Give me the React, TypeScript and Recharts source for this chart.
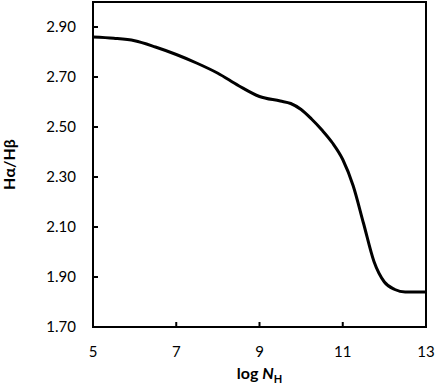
import React from "react"
import { LineChart, Line, XAxis, YAxis, ReferenceArea, Label } from "recharts"

// log N_H values along the x axis
const logNH = [5, 5.5, 6, 6.5, 7, 7.5, 8, 8.5, 9, 9.5, 9.75, 10, 10.25, 10.5, 10.75, 11, 11.25, 11.5, 11.75, 12, 12.25, 12.5, 13]
// Balmer decrement Ha/Hb
const ratio = [2.86, 2.855, 2.845, 2.82, 2.79, 2.755, 2.715, 2.665, 2.622, 2.604, 2.594, 2.57, 2.532, 2.488, 2.437, 2.37, 2.265, 2.114, 1.962, 1.88, 1.85, 1.84, 1.84]

const xTicks = [5, 7, 9, 11, 13]
const yTicks = [1.7, 1.9, 2.1, 2.3, 2.5, 2.7, 2.9]

const data = logNH.map((x, i) => ({ x, y: ratio[i] }))

const FONT = "Lato, 'Open Sans', sans-serif"

const XTitle = (props: any) => {
  const vb = props.viewBox || {}
  const cx = vb.x + vb.width / 2
  return (
    <text x={cx} y={vb.y + 52} textAnchor="middle" fontFamily={FONT} fontWeight="bold" fontSize={16} fill="#000">
      log <tspan fontStyle="italic">N</tspan>
      <tspan fontSize={11} dy={4}>H</tspan>
    </text>
  )
}

const YTitle = (props: any) => {
  const vb = props.viewBox || {}
  const cy = vb.y + vb.height / 2
  const x = 15
  return (
    <text
      x={x}
      y={cy}
      transform={`rotate(-90 ${x} ${cy})`}
      textAnchor="middle"
      fontFamily={FONT}
      fontWeight="bold"
      fontSize={16}
      fill="#000"
    >
      Hα/Hβ
    </text>
  )
}

export default function App() {
  return (
    <div style={{ position: "absolute", left: 0, top: 0, background: "#fff" }}>
      <LineChart width={436} height={387} data={data} margin={{ top: 2, right: 10, left: 0, bottom: 0 }}>
        <XAxis
          dataKey="x"
          type="number"
          domain={[5, 13]}
          ticks={xTicks}
          height={60}
          axisLine={{ stroke: "#000", strokeWidth: 2 }}
          tickLine={{ stroke: "#000", strokeWidth: 2 }}
          tickSize={-5}
          tickMargin={24}
          tick={{ fontSize: 15, fill: "#000", fontFamily: FONT }}
        >
          <Label content={<XTitle />} />
        </XAxis>
        <YAxis
          type="number"
          domain={[1.7, 3.0]}
          ticks={yTicks}
          width={93}
          axisLine={{ stroke: "#000", strokeWidth: 2 }}
          tickLine={{ stroke: "#000", strokeWidth: 2 }}
          tickSize={-5}
          tickMargin={22}
          tickFormatter={(v: number) => v.toFixed(2)}
          tick={{ fontSize: 15, fill: "#000", fontFamily: FONT }}
        >
          <Label content={<YTitle />} />
        </YAxis>
        <ReferenceArea x1={5} x2={13} y1={1.7} y2={3.0} stroke="#000" strokeWidth={2} fill="none" fillOpacity={0} />
        <Line
          type="monotone"
          dataKey="y"
          stroke="#000"
          strokeWidth={3}
          dot={false}
          isAnimationActive={false}
        />
      </LineChart>
    </div>
  )
}
